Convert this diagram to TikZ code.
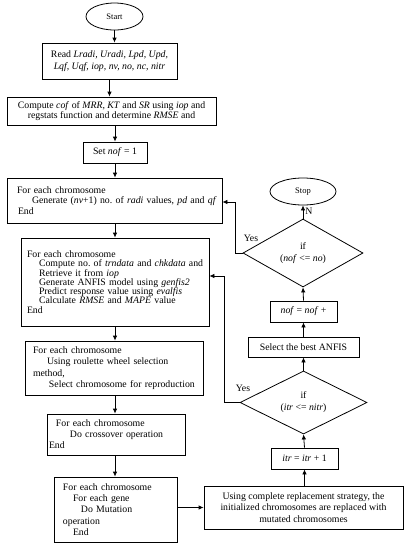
\documentclass[tikz,border=0pt]{standalone}
\usepackage{fontspec}
\setmainfont{Liberation Serif}
\frenchspacing
\usetikzlibrary{shapes.geometric,arrows.meta,calc}
\begin{document}
\begin{tikzpicture}[x=1pt,y=-1pt,
  every node/.style={font=\fontsize{9.8pt}{11pt}\selectfont},
  box/.style={draw, line width=0.8pt, inner sep=0pt, align=center},
  lbox/.style={draw, line width=0.8pt, inner xsep=0pt, inner ysep=0pt, align=left},
  term/.style={draw, ellipse, line width=0.8pt, inner sep=0pt, font=\fontsize{8.5pt}{10pt}\selectfont},
  dec/.style={draw, diamond, aspect=2, line width=0.8pt, inner sep=0pt, align=center, font=\fontsize{9.8pt}{12pt}\selectfont},
  arr/.style={line width=0.8pt, -{Latex[length=5pt,width=4.5pt]}},
  lab/.style={inner sep=0pt}
]
\useasboundingbox (0,0) rectangle (409,550);

\node[term, minimum width=57pt, minimum height=27pt] (start) at (114.5,16.5) {Start};
\node[box, minimum width=135pt, minimum height=36pt, font=\fontsize{9.8pt}{11.7pt}\selectfont] (read) at (109.5,61)
  {Read \textit{Lradi, Uradi, Lpd, Upd,}\\\textit{Lqf, Uqf, iop, nv, no, nc, nitr}};
\node[box, minimum width=209pt, minimum height=28pt, font=\fontsize{9.8pt}{10pt}\selectfont] (comp) at (111.5,111)
  {Compute \textit{cof} of \textit{MRR, KT} and \textit{SR} using \textit{iop} and\\regstats function and determine \textit{RMSE} and};
\node[box, minimum width=64pt, minimum height=21pt] (setnof) at (115,152.5) {Set \textit{nof} = 1};
\node[lbox, text width=215pt, minimum height=45pt, font=\fontsize{9.8pt}{10.3pt}\selectfont] (gen) at (114.5,200.5)
  {\hspace*{10pt}For each chromosome\\\hspace*{25pt}Generate (\textit{nv}+1) no. of \textit{radi} values, \textit{pd} and \textit{qf}\\\hspace*{11pt}End};
\node[lbox, text width=188pt, minimum height=88pt, font=\fontsize{9.8pt}{9.3pt}\selectfont] (eval) at (115,282)
  {\hspace*{6pt}For each chromosome\\
   \hspace*{18pt}Compute no. of \textit{trndata} and \textit{chkdata} and\\
   \hspace*{18pt}Retrieve it from \textit{iop}\\
   \hspace*{18pt}Generate ANFIS model using \textit{genfis2}\\
   \hspace*{18pt}Predict response value using \textit{evalfis}\\
   \hspace*{18pt}Calculate \textit{RMSE} and \textit{MAPE} value\\
   \hspace*{6pt}End};
\node[lbox, text width=178pt, minimum height=54pt, font=\fontsize{9.8pt}{11.3pt}\selectfont] (roul) at (114,368)
  {\hspace*{8pt}For each chromosome\\
   \hspace*{22pt}Using roulette wheel selection\\
   \hspace*{8pt}method,\\
   \hspace*{24pt}Select chromosome for reproduction};
\node[lbox, text width=138pt, minimum height=41pt, font=\fontsize{9.8pt}{11pt}\selectfont] (cross) at (116,434.5)
  {\hspace*{9pt}For each chromosome\\
   \hspace*{23pt}Do crossover operation\\
   \hspace*{2pt}End};
\node[lbox, text width=123pt, minimum height=65pt, font=\fontsize{9.8pt}{11.3pt}\selectfont] (mut) at (115.5,509.5)
  {\hspace*{9pt}For each chromosome\\
   \hspace*{19pt}For each gene\\
   \hspace*{27pt}Do Mutation\\
   \hspace*{9pt}operation\\
   \hspace*{19pt}End};
\node[box, minimum width=199pt, minimum height=43pt, font=\fontsize{9.8pt}{11.3pt}\selectfont] (repl) at (303.5,507.5)
  {Using complete replacement strategy, the\\initialized chromosomes are replaced with\\mutated chromosomes};
\node[box, minimum width=67pt, minimum height=21pt] (itr) at (304.5,458.5) {\textit{itr} = \textit{itr} + 1};
\node[dec, minimum width=127pt, minimum height=63pt] (d2) at (303.5,402.5) {if\\(\textit{itr} <= \textit{nitr})};
\node[box, minimum width=111pt, minimum height=20pt] (best) at (303.5,347) {Select the best ANFIS};
\node[box, minimum width=67pt, minimum height=21pt] (nofinc) at (303.5,311.5) {\textit{nof} = \textit{nof} +};
\node[dec, minimum width=120pt, minimum height=68pt] (d1) at (303,253) {if\\(\textit{nof} <= \textit{no})};
\node[term, minimum width=66pt, minimum height=27pt] (stop) at (303,191.5) {Stop};

\draw[arr] (start.south) -- (start.south |- read.north);
\draw[arr] (read.south) -- (read.south |- comp.north);
\draw[arr] (setnof.north |- comp.south) -- (setnof.north);
\draw[arr] (setnof.south) -- (setnof.south |- gen.north);
\draw[arr] (setnof.south |- gen.south) -- (setnof.south |- eval.north);
\draw[arr] (eval.south) -- (eval.south |- roul.north);
\draw[arr] (eval.south |- roul.south) -- (eval.south |- cross.north);
\draw[arr] (eval.south |- cross.south) -- (eval.south |- mut.north);
\draw[arr] (repl.west -| mut.east) -- (repl.west);
\draw[arr] (itr.south |- repl.north) -- (itr.south);
\draw[arr] (itr.north) -- (d2.south);
\draw[arr] (d2.north) -- (best.south);
\draw[arr] (best.north) -- (nofinc.south);
\draw[arr] (nofinc.north) -- (d1.south);
\draw[arr] (d1.north) -- (stop.south) node[lab, pos=0.55, right=2pt] {N};
\draw[arr] (d1.west) -- ++(-7,0) |- ([yshift=-1.5pt]gen.east);
\draw[arr] (d2.west) -- ++(-15,0) |- ([yshift=6pt]eval.east);
\node[lab] (yes1) at (251,238) {Yes};
\node[lab] (yes2) at (243,388) {Yes};
\end{tikzpicture}
\end{document}
